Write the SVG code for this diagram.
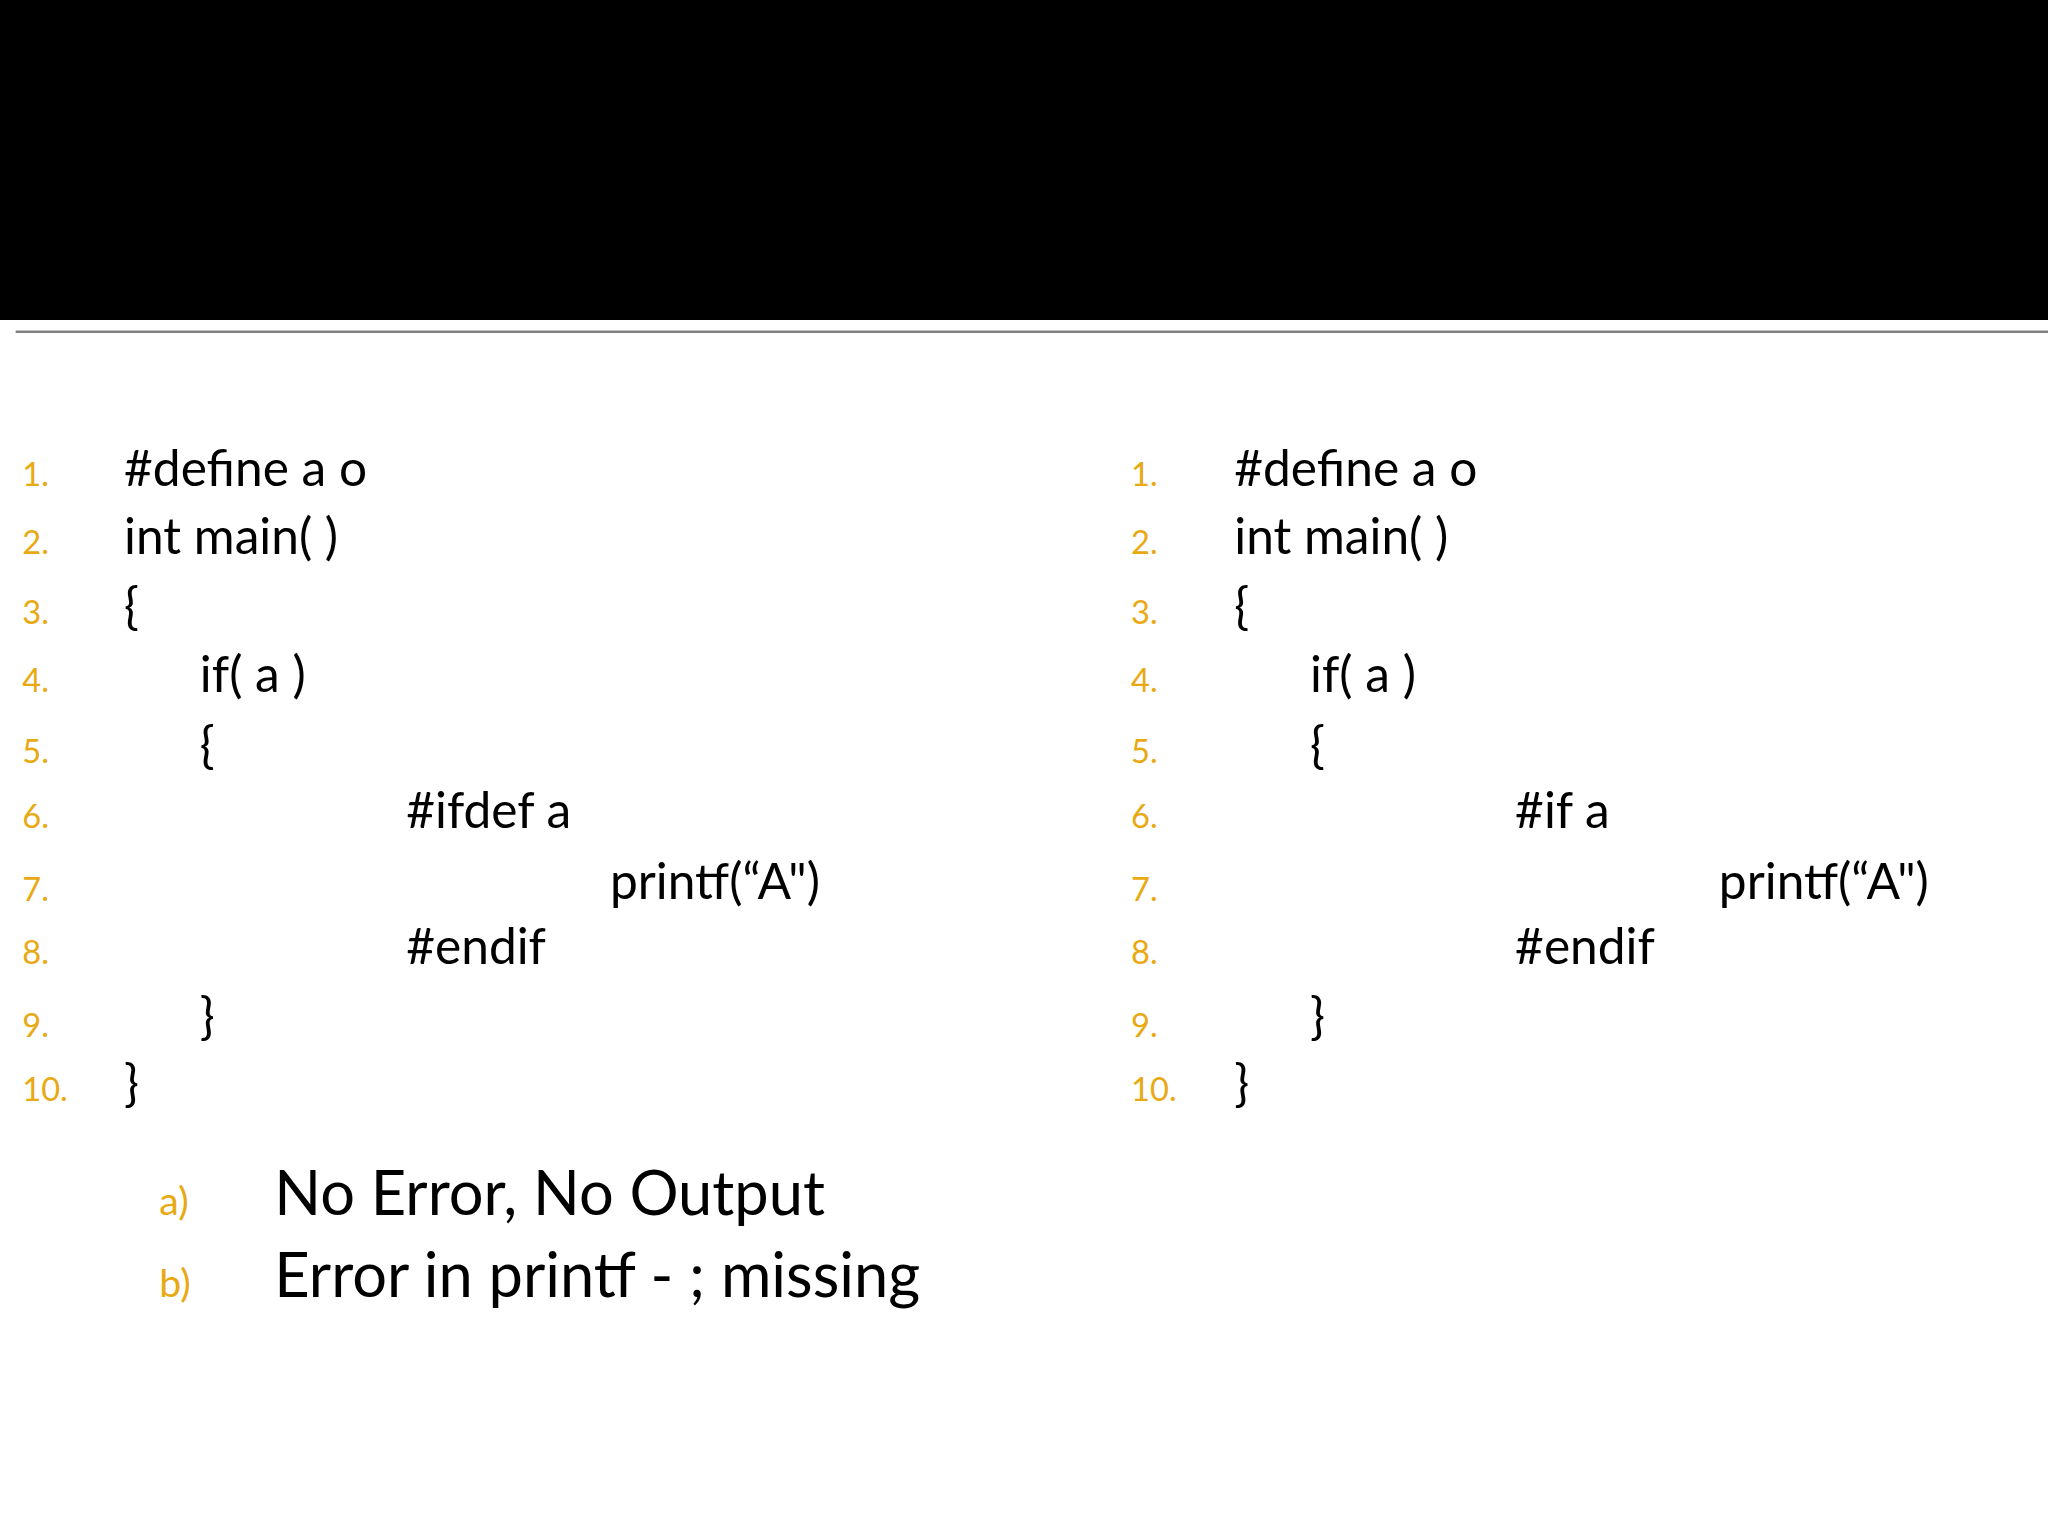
<svg xmlns="http://www.w3.org/2000/svg" width="2048" height="1536" viewBox="0 0 2048 1536">
<style>
.n{font-family:Lato,"Open Sans",sans-serif;font-size:25px;fill:#E8A913}
.c{font-family:Lato,"Open Sans",sans-serif;font-size:38px;fill:#000}
.a{font-family:Lato,"Open Sans",sans-serif;font-size:30px;fill:#E8A913}
.t{font-family:Lato,"Open Sans",sans-serif;font-size:47px;fill:#000}
</style>
<rect width="2048" height="1536" fill="#fff"/>
<g transform="scale(1.30612)">
<rect x="0" y="0" width="1568" height="245" fill="#000"/>
<line x1="12" y1="254" x2="1568" y2="254" stroke="#808080" stroke-width="2"/>
<g id="left">
<text class="n" x="17" y="372">1.</text><text class="c" x="95" y="372">#define  a    o</text>
<text class="n" x="17" y="424">2.</text><text class="c" x="95" y="424">int main( )</text>
<text class="n" x="17" y="478">3.</text><text class="c" x="95" y="478">{</text>
<text class="n" x="17" y="530">4.</text><text class="c" x="153" y="530">if( a )</text>
<text class="n" x="17" y="584">5.</text><text class="c" x="153" y="584">{</text>
<text class="n" x="17" y="634">6.</text><text class="c" x="311" y="634">#ifdef  a</text>
<text class="n" x="17" y="690">7.</text><text class="c" x="467" y="688">printf(“A")</text>
<text class="n" x="17" y="738">8.</text><text class="c" x="311" y="738">#endif</text>
<text class="n" x="17" y="794">9.</text><text class="c" x="153" y="792">}</text>
<text class="n" x="17" y="843">10.</text><text class="c" x="95" y="843">}</text>
</g>
<g id="right">
<text class="n" x="866" y="372">1.</text><text class="c" x="945" y="372">#define  a    o</text>
<text class="n" x="866" y="424">2.</text><text class="c" x="945" y="424">int main( )</text>
<text class="n" x="866" y="478">3.</text><text class="c" x="945" y="478">{</text>
<text class="n" x="866" y="530">4.</text><text class="c" x="1003" y="530">if( a )</text>
<text class="n" x="866" y="584">5.</text><text class="c" x="1003" y="584">{</text>
<text class="n" x="866" y="634">6.</text><text class="c" x="1160" y="634">#if  a</text>
<text class="n" x="866" y="690">7.</text><text class="c" x="1316" y="688">printf(“A")</text>
<text class="n" x="866" y="738">8.</text><text class="c" x="1160" y="738">#endif</text>
<text class="n" x="866" y="794">9.</text><text class="c" x="1003" y="792">}</text>
<text class="n" x="866" y="843">10.</text><text class="c" x="945" y="843">}</text>
</g>
<g id="answers">
<text class="a" x="122" y="930">a)</text><text class="t" x="210" y="930">No Error, No Output</text>
<text class="a" x="122" y="993">b)</text><text class="t" x="210" y="993">Error in printf - ; missing</text>
</g>
</g>
</svg>
